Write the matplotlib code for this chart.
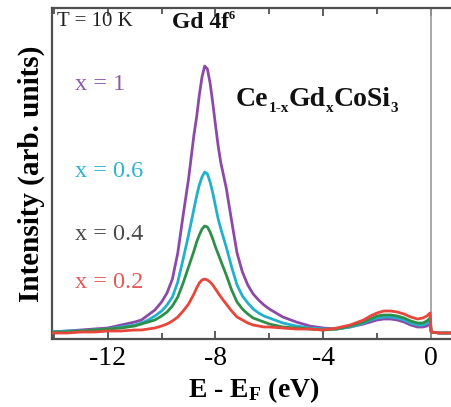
import matplotlib
matplotlib.use("Agg")
import matplotlib.pyplot as plt
from matplotlib.ticker import MultipleLocator

plt.rcParams['font.family'] = ['Liberation Serif', 'DejaVu Serif']
plt.rcParams['mathtext.fontset'] = 'custom'
plt.rcParams['mathtext.rm'] = 'Liberation Serif'
plt.rcParams['mathtext.bf'] = 'Liberation Serif:bold'
plt.rcParams['mathtext.it'] = 'Liberation Serif:italic'

# ---- data ----
energy = [-14.07, -13.5, -13, -12.5, -12, -11.5, -11, -10.75, -10.5, -10.25, -10, -9.8,
          -9.6, -9.4, -9.2, -9.0, -8.9, -8.8, -8.7, -8.6, -8.5, -8.4, -8.3, -8.2, -8.1,
          -8.0, -7.9, -7.8, -7.6, -7.4, -7.2, -7.0, -6.8, -6.6, -6.4, -6.2, -6.0, -5.5,
          -5.0, -4.5, -4.0,
          -3.5, -3.0, -2.5, -2.25, -2.0, -1.75, -1.5, -1.25, -1.0, -0.75, -0.5, -0.3,
          -0.15, -0.03, 0.01, 0.3, 0.95]

int_x1 = [7, 8, 9, 10, 11, 14, 17, 19, 24, 29, 37, 46,
          60, 86, 124, 160, 182, 204, 222, 244, 262, 273, 270, 256, 236,
          214, 193, 176, 151, 118, 86, 67, 54, 45, 39, 34, 30, 22,
          17, 13, 11,
          10, 12, 15, 17, 19, 20, 20, 19, 17, 14, 12, 12,
          13, 15, 7, 6, 6]

int_x06 = [7, 8, 8, 9, 10, 12, 14, 16, 19, 23, 28, 34,
           42, 57, 80, 104, 117, 130, 143, 154, 162, 167, 165, 157, 146,
           133, 120, 110, 92, 72, 54, 43, 36, 30, 26, 23, 21, 16,
           13, 11, 10,
           10, 12, 16, 19, 21, 22, 22, 21, 19, 16, 14, 14,
           16, 18, 7, 6, 6]

int_x04 = [7, 7, 8, 9, 10, 11, 13, 15, 17, 19, 23, 27,
           33, 42, 56, 72, 80, 88, 97, 104, 110, 113, 112, 107, 100,
           92, 85, 78, 64, 49, 37, 30, 25, 21, 19, 17, 15, 12,
           11, 10, 9,
           10, 13, 17, 20, 23, 24, 24, 23, 21, 18, 16, 16,
           18, 21, 7, 6, 6]

int_x02 = [6, 6, 7, 7, 8, 8, 9, 9, 10, 11, 13, 15,
           18, 22, 28, 35, 40, 45, 51, 56, 59, 60, 59, 57, 54,
           50, 46, 42, 35, 28, 22, 19, 16, 14, 13, 12, 12, 11,
           10, 10, 9,
           11, 14, 19, 23, 26, 28, 28, 27, 25, 22, 20, 21,
           23, 26, 7, 6, 6]

series = [("x = 1", int_x1, "#8c4aa8"),
          ("x = 0.6", int_x06, "#22b0cc"),
          ("x = 0.4", int_x04, "#2f8f4a"),
          ("x = 0.2", int_x02, "#e8453c")]

label_colors = {"x = 1": "#8e5aa6", "x = 0.6": "#2fb3cc",
                "x = 0.4": "#4a4a4a", "x = 0.2": "#e35a5a"}

x_major = [-12, -8, -4, 0]
x_tick_labels = ["-12", "-8", "-4", "0"]

W, H = 452, 407
fig = plt.figure(figsize=(W / 100, H / 100), dpi=100)
fig.patch.set_facecolor("white")


def fx(px):
    return px / W


def fy(py):
    return 1 - py / H


ax = fig.add_axes([fx(52), fy(339), 1 - fx(52) + 0.01, (339 - 8) / H])
ax.set_xlim(-14.07, 0.95)
ax.set_ylim(0, 331)

for name, vals, col in series:
    ax.plot(energy, vals, color=col, lw=2.0, solid_joinstyle='round', zorder=3)

ax.axvline(0, color="#9a9a9a", lw=1.2, zorder=2)

ax.set_xticks(x_major)
ax.set_xticklabels(x_tick_labels, fontsize=20)
ax.xaxis.set_minor_locator(MultipleLocator(2))
ax.set_yticks([])
ax.tick_params(axis='x', which='both', direction='in', top=True, bottom=True,
               color="#505050", pad=5)
ax.tick_params(axis='x', which='major', length=6, width=1.3)
ax.tick_params(axis='x', which='minor', length=4, width=1.3)
for side in ["left", "bottom", "top"]:
    ax.spines[side].set_color("#505050")
    ax.spines[side].set_linewidth(1.6)
ax.spines["right"].set_visible(False)

ax.set_xlabel("E - E$_{\\mathbf{F}}$ (eV)", fontsize=20, fontweight='bold', labelpad=3)
ax.set_ylabel("Intensity (arb. units)", fontsize=21, fontweight='bold', labelpad=5)

# annotations
fig.text(fx(57), fy(22), "T = 10 K", fontsize=15, va='center', ha='left', color="#222222")

renderer = fig.canvas.get_renderer()


def chain(parts, x0_px, base_px, weight='bold', color="#111111"):
    x = x0_px
    for s, size, dy in parts:
        t = fig.text(fx(x), fy(base_px + dy), s, fontsize=size, fontweight=weight,
                     va='baseline', ha='left', color=color)
        bb = t.get_window_extent(renderer=renderer)
        x += bb.width


chain([("Gd 4f", 17, 0), ("6", 9, -9)], 172, 28)
chain([("Ce", 20, 0), ("1-x", 11, 6), ("Gd", 20, 0), ("x", 11, 6),
       ("CoSi", 20, 0), ("3", 11, 6)], 236, 106)

label_y = {"x = 1": 85, "x = 0.6": 172, "x = 0.4": 235, "x = 0.2": 282}
for name, vals, col in series:
    fig.text(fx(75), fy(label_y[name]), name, fontsize=17.5, va='center', ha='left',
             color=label_colors[name])

fig.savefig("out.png", dpi=100, facecolor="white")
